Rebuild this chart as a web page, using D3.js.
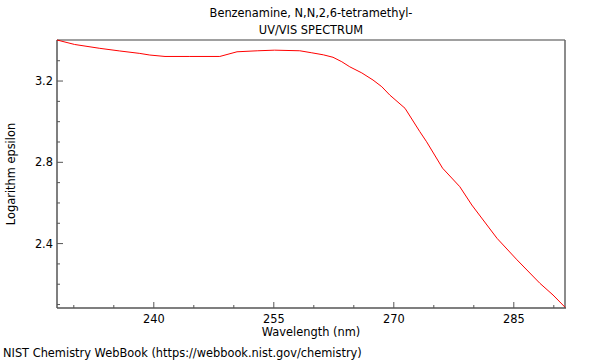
<!DOCTYPE html>
<html><head><meta charset="utf-8">
<script src="https://cdn.jsdelivr.net/npm/d3@7"></script>
<style>body{margin:0;background:#fff}svg{display:block;font-family:"DejaVu Sans",sans-serif}</style>
</head><body><svg id="c" width="600" height="360"></svg>
<script>
const wavelength = [227.9,230.1,233.25,235.75,238.25,239.5,241.4,244.5,248.25,250.4,253,255.1,258.25,259.75,261.2,262.4,263.5,264.5,266,267.4,268.5,269.5,271.4,273.25,274.1,276.1,278.25,279.75,282.9,285.4,288.25,289.9,291.4];
const logEps = [3.402,3.380,3.361,3.348,3.336,3.328,3.321,3.321,3.321,3.344,3.349,3.352,3.349,3.339,3.329,3.317,3.295,3.270,3.240,3.205,3.172,3.131,3.066,2.951,2.901,2.771,2.680,2.590,2.426,2.320,2.205,2.147,2.087];
const xTicks = [240,255,270,285];
const yTicks = [2.4,2.8,3.2];
const titleLines = ["Benzenamine, N,N,2,6-tetramethyl-","UV/VIS SPECTRUM"];

const FS = 11.4;
const svg = d3.select("#c");
const L=57,R=565,T=40,B=308;
const x = d3.scaleLinear().domain([227.9,291.4]).range([L,R]);
const y = d3.scaleLinear().domain([2.083,3.402]).range([B,T]);

// frame top/right
svg.append("line").attr("x1",L).attr("x2",R).attr("y1",T).attr("y2",T).attr("stroke","#a0a0a0").attr("stroke-width",2);
svg.append("line").attr("x1",R).attr("x2",R).attr("y1",T).attr("y2",B).attr("stroke","#666").attr("stroke-width",1.5);

// x axis
const minorX = d3.range(230,291,5);
const gx = svg.append("g");
gx.selectAll("line.mt").data(minorX).join("line")
  .attr("x1",d=>x(d)).attr("x2",d=>x(d)).attr("y1",B).attr("y2",d=>xTicks.includes(d)?B-6:B-3)
  .attr("stroke","#555");
gx.selectAll("text").data(xTicks).join("text")
  .attr("x",d=>x(d)).attr("y",B+15).attr("text-anchor","middle").attr("font-size",FS).attr("fill","#000").text(d=>d);
svg.append("line").attr("x1",L).attr("x2",R+1).attr("y1",B).attr("y2",B).attr("stroke","#555").attr("stroke-width",1.5);

// y axis
const minorY = d3.range(21,35,1).map(d=>d/10);
const gy = svg.append("g");
gy.selectAll("line").data(minorY).join("line")
  .attr("x1",L).attr("x2",d=>yTicks.some(t=>Math.abs(t-d)<1e-9)?L+6:L+3).attr("y1",d=>y(d)).attr("y2",d=>y(d))
  .attr("stroke","#555");
gy.selectAll("text").data(yTicks).join("text")
  .attr("x",L-4).attr("y",d=>y(d)+4).attr("text-anchor","end").attr("font-size",FS).attr("fill","#000").text(d=>d.toFixed(1));
svg.append("line").attr("x1",L).attr("x2",L).attr("y1",T).attr("y2",B).attr("stroke","#555").attr("stroke-width",1.5);

// curve
svg.append("path").datum(wavelength.map((w,i)=>[w,logEps[i]]))
  .attr("d",d3.line().x(d=>x(d[0])).y(d=>y(d[1])))
  .attr("fill","none").attr("stroke","#ff0000").attr("stroke-width",1);

// titles
svg.selectAll("text.t").data(titleLines).join("text").attr("class","t")
  .attr("x",311).attr("y",(d,i)=>17+i*17).attr("text-anchor","middle").attr("font-size",FS).attr("fill","#000").text(d=>d);
svg.append("text").attr("x",311).attr("y",336).attr("text-anchor","middle").attr("font-size",FS).text("Wavelength (nm)");
svg.append("text").attr("transform","translate(15,174) rotate(-90)").attr("text-anchor","middle").attr("font-size",FS).text("Logarithm epsilon");
svg.append("text").attr("x",3).attr("y",357).attr("font-size",FS).text("NIST Chemistry WebBook (https://webbook.nist.gov/chemistry)");
</script></body></html>
